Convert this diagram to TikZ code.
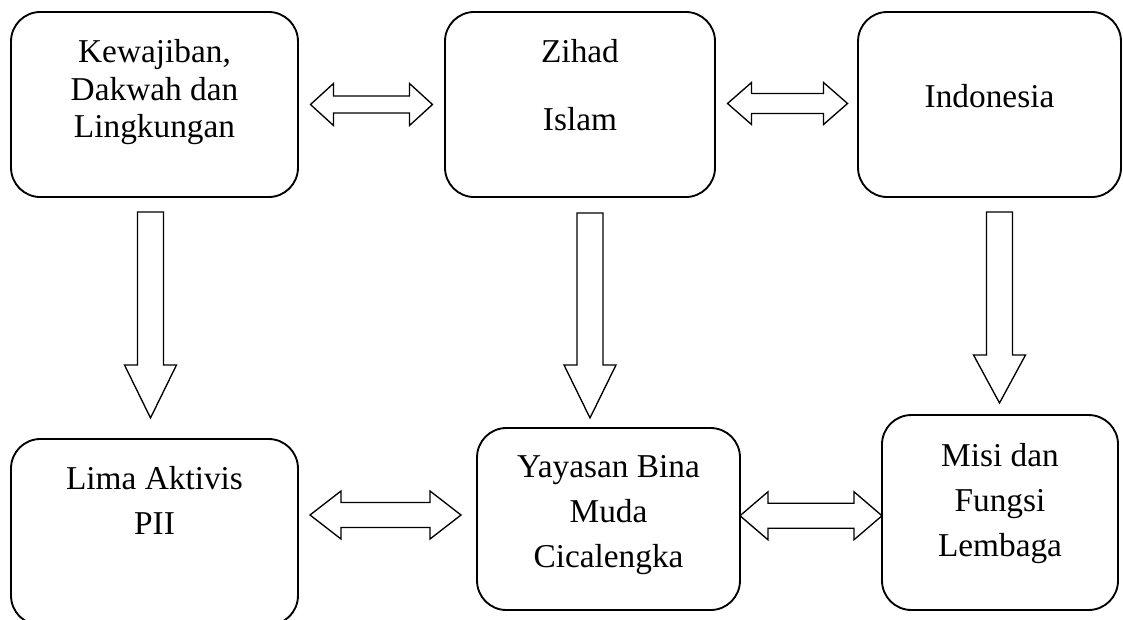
\documentclass[tikz,border=0pt]{standalone}
\usepackage{fontspec}
\setmainfont{Liberation Serif}
\usetikzlibrary{calc}

\tikzset{
  box/.style={draw, line width=1.4pt, rounded corners=22pt, inner sep=0pt},
  blk/.style={draw, line width=1pt, fill=white, line join=miter},
  lbl/.style={inner sep=0pt, align=center, font=\fontsize{25}{28.2}\selectfont},
  lblb/.style={inner sep=0pt, align=center, font=\fontsize{25}{33.8}\selectfont},
  pics/dbl/.style n args={4}{code={
    \draw[blk] (-#1,0) -- (-#1+#4,-#2) -- (-#1+#4,-#3) -- (#1-#4,-#3) -- (#1-#4,-#2) -- (#1,0)
      -- (#1-#4,#2) -- (#1-#4,#3) -- (-#1+#4,#3) -- (-#1+#4,#2) -- cycle;
  }},
  pics/vblk/.style 2 args={code={
    \draw[blk] (-13,0) -- (13,0) -- (13,-#1+#2) -- (26,-#1+#2) -- (0,-#1) -- (-26,-#1+#2) -- (-13,-#1+#2) -- cycle;
  }},
}

\begin{document}
\begin{tikzpicture}[x=0.75pt,y=0.75pt,yscale=-1,xscale=1]
        \useasboundingbox (0,0) rectangle (1123,619);

        %Shape: Rounded Rect [top row]
        \node[box, minimum width=215.2pt, minimum height=138.8pt] (kew) at (154.5,104.5) {};
        \node[box, minimum width=202.5pt, minimum height=138.8pt] (zih) at (580,104.5) {};
        \node[box, minimum width=197.2pt, minimum height=138.8pt] (ind) at (989.5,104.5) {};

        %Shape: Rounded Rect [bottom row]
        \node[box, minimum width=215.2pt, minimum height=139.5pt] (lima) at (154.5,532) {};
        \node[box, minimum width=197.2pt, minimum height=136.5pt] (yay) at (608.5,519) {};
        \node[box, minimum width=177pt, minimum height=146.2pt] (misi) at (1000,512.5) {};

        % Text Node
        \node[lbl, anchor=north] (kewtxt) at ($(kew.north)+(0,28)$) {Kewajiban,\\Dakwah dan\\Lingkungan};
        % Text Node
        \node[lbl, anchor=north, font=\fontsize{25}{51}\selectfont] (zihtxt) at ($(zih.north)+(0,28)$) {Zihad\\Islam};
        % Text Node
        \node[lbl, anchor=north] (indtxt) at ($(ind.north)+(0,73)$) {Indonesia};
        % Text Node
        \node[lblb, anchor=north] (limatxt) at ($(lima.north)+(0,28)$) {Lima Aktivis\\PII};
        % Text Node
        \node[lblb, anchor=north] (yaytxt) at ($(yay.north)+(0,28)$) {Yayasan Bina\\Muda\\Cicalengka};
        % Text Node
        \node[lblb, anchor=north] (misitxt) at ($(misi.north)+(0,29)$) {Misi dan\\Fungsi\\Lembaga};

        %Shape: Left-Right Arrow
        \pic at ($(kew.east)!0.5!(zih.west)$) {dbl={61}{21}{8.5}{23}};
        \pic at ($(zih.east)!0.5!(ind.west)+(1,-1)$) {dbl={60}{21}{10}{24}};
        \pic at ($(lima.east |- yay.west)!0.5!(yay.west)+(-2,-4)$) {dbl={75.5}{24}{12.5}{31}};
        \pic at ($(yay.east)!0.5!(misi.west)$) {dbl={71}{24}{12.5}{28}};

        %Shape: Down Arrow
        \pic at ($(kew.south)+(-4,14)$) {vblk={206}{53}};
        \pic at ($(zih.south)+(10,15)$) {vblk={205}{53}};
        \pic at ($(ind.south)+(10,14)$) {vblk={191}{48}};

\end{tikzpicture}
\end{document}
